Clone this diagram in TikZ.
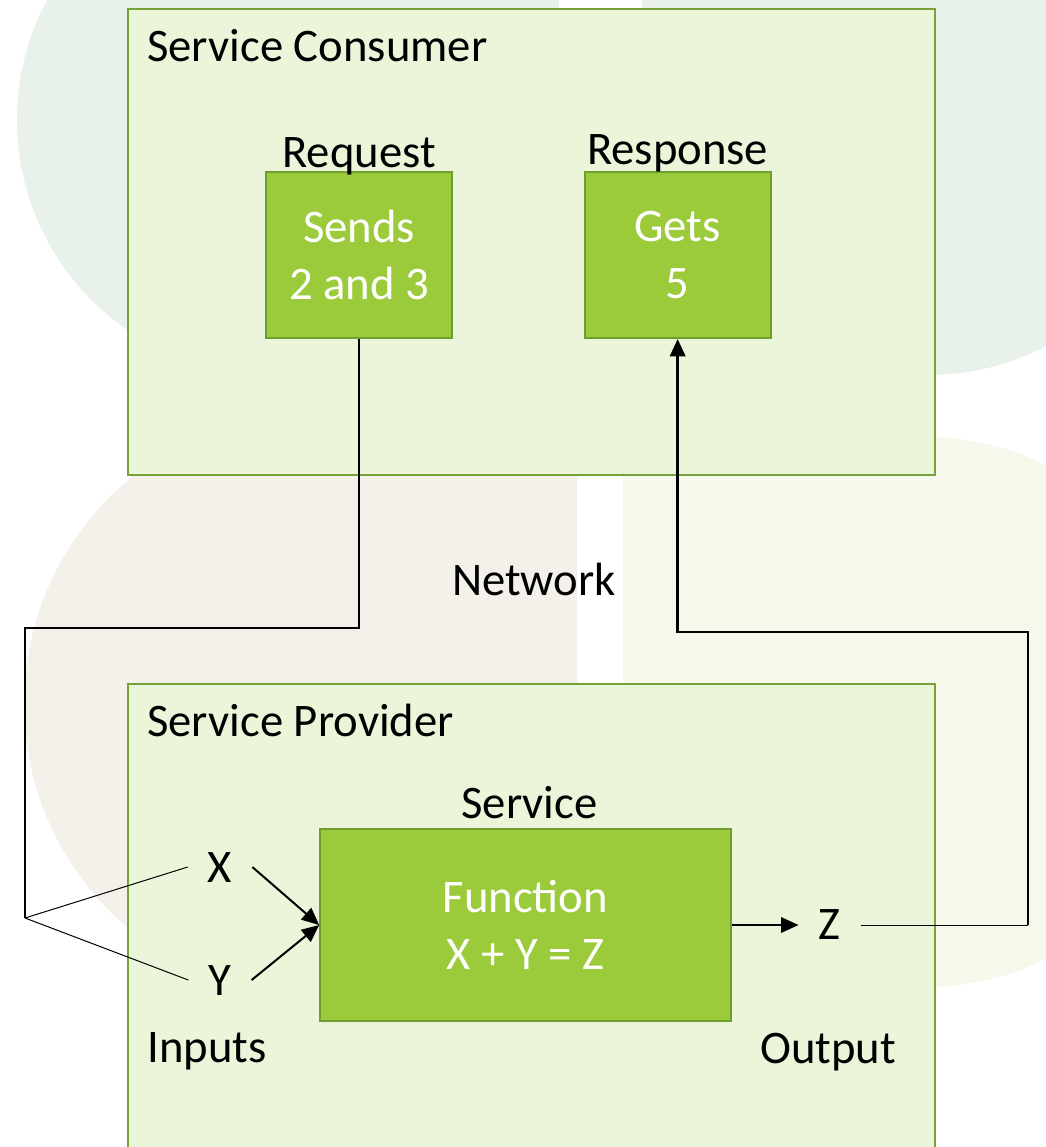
\documentclass[tikz,border=0pt]{standalone}
\usepackage{fontspec}
\setmainfont{Carlito}
\usetikzlibrary{positioning,arrows.meta}

\definecolor{mintbg}{HTML}{E9F2EA}
\definecolor{beigebg}{HTML}{F3F1EA}
\definecolor{palebg}{HTML}{F6F8EC}
\definecolor{framefill}{HTML}{EAF5D9}
\definecolor{frameline}{HTML}{77A23A}
\definecolor{blockfill}{HTML}{9BCB3B}
\definecolor{blockline}{HTML}{6F9E2E}

\begin{document}
\begin{tikzpicture}[
  x = 0.75pt, y = -0.75pt,
  every node/.style={font=\fontsize{35}{43}\selectfont},
  frame/.style={rectangle, draw=frameline, fill=framefill, line width=1.8pt,
    anchor=north west, inner sep=0pt, minimum width=605pt},
  block/.style={rectangle, draw=blockline, fill=blockfill, line width=1.5pt,
    text=white, align=center, inner sep=0pt},
  txt/.style={inner sep=0pt},
  var/.style={inner ysep=0pt, inner xsep=15pt},
  wire/.style={draw, line width=0.8pt},
  link/.style={draw, line width=1.5pt, -{Triangle[length=13pt, width=11.5pt]}}
  ]

\clip (0,0) rectangle (1046,1147);

\fill [mintbg] (272,120) circle (255);
\fill [mintbg] (272,-10) rectangle (559,375);
\fill [mintbg] (928,120) circle (255);
\fill [mintbg] (642,-10) rectangle (928,375);
\begin{scope}
  \clip (0,0) rectangle (577,1147);
  \fill [beigebg] (317,704) circle (293);
  \fill [beigebg] (317,411) rectangle (577,997);
\end{scope}
\fill [palebg] (925,712) circle (275);
\fill [palebg] (623,437) rectangle (925,987);

\node [frame, minimum height=349.5pt] (consumer) at (127,8) {};
\node [txt, anchor=base west] (consumer_lbl) at (147,61) {Service Consumer};
\node [block, minimum width=139.5pt, minimum height=124.5pt] (req) at (359,255) {Sends\\2 and 3};
\node [block, minimum width=139.5pt, minimum height=124.5pt, right=98pt of req] (resp) {Gets\\5};
\node [txt, anchor=base] (req_lbl) at ([yshift=3pt]req.north) {Request};
\node [txt, anchor=base] (resp_lbl) at ([yshift=5pt]resp.north) {Response};

\node [txt, anchor=base] (net) at (534,595) {Network};

\node [frame, minimum height=360pt] (provider) at (127,683) {};
\node [txt, anchor=base west] (provider_lbl) at (147,736) {Service Provider};
\node [block, minimum width=308pt, minimum height=144pt] (fun) at (525.5,925) {Function\\X + Y = Z};
\node [txt, anchor=base] (fun_lbl) at ([xshift=3pt, yshift=7.5pt]fun.north) {Service};
\node [var, anchor=base] (x) at (220,882) {X};
\node [var, anchor=base] (y) at (220,995) {Y};
\node [var, right=50pt of fun] (z) {Z};
\node [txt, anchor=base west] (inputs) at (147,1062) {Inputs};
\node [txt, anchor=base west] (output) at (760,1063) {Output};

\coordinate (split) at (25,918);
\coordinate (corner) at (25,628);
\coordinate (ret) at (1028,925);
\coordinate (back) at (1028,632);

\path [wire] (req.south) |- (corner) -- (split);
\path [draw, line width=0.75pt] (split) -- (x.west);
\path [draw, line width=0.75pt] (split) -- (y.west);
\path [link] (x.east) -- (fun.west);
\path [link] (y.east) -- (fun.west);
\path [link] (fun.east) -- (z.west);
\path [draw, line width=0.75pt] (z.east) -- (ret);
\path [link, line width=2pt] (ret) -- (back) -| (resp.south);
\end{tikzpicture}
\end{document}
